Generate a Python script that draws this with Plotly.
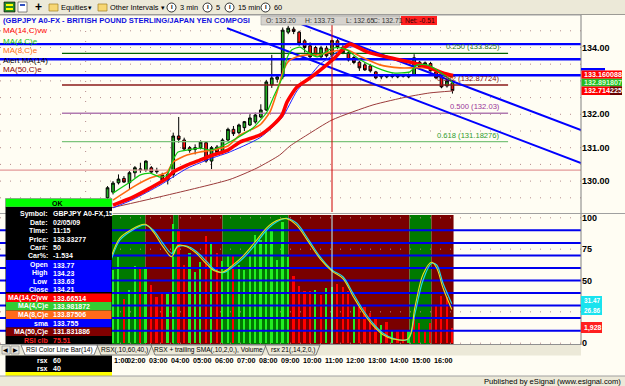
import plotly.graph_objects as go

W, H = 625, 386
FONT = "Liberation Sans, Arial, sans-serif"
CREAM = "#FFFDF3"
BARBG = "#ECE9D8"

# ---------------- DATA ----------------
# 15-minute GBPJPY candles, first bar 01:00
bar_start_hour = 1.0
bar_step_hours = 0.25
opens = [129.50,129.67,129.95,130.08,129.95,130.25,130.33,130.33,130.40,130.28,
         130.18,130.03,130.20,131.35,131.23,131.00,130.95,131.00,131.15,130.60,
         131.02,130.87,131.23,131.55,131.45,131.60,131.68,131.77,131.92,132.13,
         132.88,133.05,133.12,134.46,134.55,134.46,134.20,134.05,134.00,133.72,
         133.98,133.77,134.20,134.01,133.84,133.70,133.56,133.48,133.45,133.27,
         133.12,133.12,133.13,133.12,133.14,133.12,133.18,133.56,133.42,133.52,
         133.27,133.12,132.85,132.94]
highs = [129.85,130.00,130.20,130.15,130.30,130.45,130.55,130.62,130.45,130.40,
         130.25,130.30,131.45,131.92,131.30,131.05,131.10,131.22,131.20,131.05,
         131.08,131.28,131.60,131.65,131.72,131.80,132.00,132.05,132.30,133.03,
         133.78,133.20,134.60,134.65,134.62,134.50,134.25,134.15,134.05,134.05,
         134.05,134.23,134.25,134.10,133.90,133.75,133.60,133.55,133.50,133.30,
         133.20,133.20,133.22,133.20,133.20,133.22,133.80,133.60,133.58,133.57,
         133.30,133.15,133.05,132.98]
lows = [129.45,129.60,129.90,129.95,129.75,130.10,130.25,130.28,130.22,130.22,
        129.98,129.90,130.10,131.15,130.90,130.85,130.80,130.95,130.55,130.36,
        130.80,130.82,131.17,131.35,131.40,131.50,131.65,131.72,131.88,132.10,
        132.79,132.95,133.05,134.40,134.40,134.05,133.85,133.65,133.72,133.68,
        133.70,133.63,133.95,133.80,133.58,133.50,133.30,133.30,133.25,133.05,
        133.05,133.08,133.08,133.08,133.10,133.08,133.15,133.35,133.38,133.28,
        133.05,132.78,132.80,132.62]
closes = [129.80,129.94,130.06,129.97,130.25,130.40,130.36,130.60,130.27,130.31,
          130.03,130.20,131.35,131.25,130.96,130.92,131.00,131.17,130.60,131.00,
          130.85,131.23,131.55,131.42,131.68,131.78,131.89,131.98,132.13,132.97,
          133.09,133.12,134.52,134.58,134.48,134.13,134.00,133.72,133.78,133.99,
          133.75,134.21,134.00,133.84,133.63,133.55,133.39,133.33,133.30,133.09,
          133.15,133.17,133.18,133.16,133.17,133.18,133.69,133.42,133.54,133.30,
          133.09,132.82,133.00,132.71]
bar_hours = [bar_start_hour + i * bar_step_hours for i in range(len(closes))]

# moving averages (hour, price)
ma14_h = [1.25,2.16,2.94,3.72,3.99,4.63,5.22,5.82,6.50,7.05,7.96,8.56,8.97,9.20,9.65,10.25,11.02,11.39,11.75,12.07,12.85,13.90,14.95,15.72,16.32,16.78]
ma14_p = [129.28,129.52,129.79,130.09,130.27,130.48,130.63,130.78,130.93,131.17,131.38,131.68,131.98,132.37,132.82,133.09,133.49,133.70,133.95,134.10,133.87,133.69,133.54,133.39,133.24,133.16]
ma4_h = [1.25,2.03,2.48,2.94,3.40,3.72,3.99,4.22,4.63,5.22,5.68,6.13,6.50,6.91,7.64,8.28,8.56,8.97,9.20,9.42,9.79,10.11,10.57,11.25,11.62,11.93,12.53,13.30,14.04,14.81,15.13,15.59,16.18,16.64,16.78]
ma4_p = [129.64,129.97,130.18,130.24,130.12,130.18,130.63,130.87,130.93,130.99,130.93,131.02,131.14,131.29,131.59,132.07,132.49,133.09,133.69,133.93,134.01,133.87,133.72,133.98,133.99,133.93,133.63,133.39,133.24,133.27,133.48,133.48,133.27,133.03,132.90]
ma8_h = [1.25,2.16,2.94,3.72,3.99,4.63,5.22,5.82,6.50,7.05,7.96,8.42,8.74,9.01,9.24,9.65,10.11,10.70,11.25,11.93,12.67,13.44,14.36,14.95,15.59,16.18,16.78]
ma8_p = [129.43,129.82,130.09,130.27,130.57,130.78,130.87,130.93,131.05,131.38,131.68,132.07,132.67,133.27,133.57,133.72,133.78,133.78,133.88,133.93,133.69,133.48,133.39,133.39,133.39,133.24,133.09]
alert_h = [1.25,2.16,3.40,4.63,5.82,6.50,7.96,8.97,9.65,10.25,10.70,11.25,11.75,12.30,12.99,13.90,14.95,15.72,16.78]
alert_p = [129.20,129.45,129.88,130.38,130.70,130.85,131.30,131.90,132.70,133.15,133.50,133.75,133.98,134.02,133.85,133.66,133.52,133.38,133.15]
ma50_h = [1.11,3.72,6.59,7.82,8.86,9.33,10.11,11.25,13.12,14.67,15.72,16.78]
ma50_p = [129.19,129.58,130.05,130.39,130.78,131.05,131.38,131.83,132.28,132.52,132.64,132.70]

# horizontal levels
blue_levels = [134.10, 133.65, 133.17]
fib_ratios = ["0.250", "0.382", "0.500", "0.618"]
fib_prices = [133.825, 132.87724, 132.03, 131.18276]
fib_price_text = ["133.825", "132.87724", "132.03", "131.18276"]
fib_colors = ["#006400", "#8B1A1A", "#B07AB0", "#7CC47C"]
fib_text_colors = ["#1E7A1E", "#7A1010", "#993399", "#2E9A2E"]
fib_start_hour, fib_end_hour = -1.08, 19.29
support_level = 130.33
# trend channel (hour, price) end points
chan_upper_h, chan_upper_p = [8.88, 22.62], [134.94, 131.53]
chan_lower_h, chan_lower_p = [6.46, 22.62], [134.58, 130.54]
cursor_hour = 11.25

# lower panel: volume-style histogram bars (bars 2..64) and RSX lines
vol_vals = [58.4,68.5,35.2,42.4,61.6,59.7,59.7,46.4,37.1,39.0,
            40.6,95.0,91.0,62.4,72.2,57.0,65.0,85.7,79.7,72.2,
            65.5,70.3,70.3,62.4,58.4,70.3,86.3,82.3,90.3,90.3,
            66.3,96.9,68.5,53.6,45.6,41.9,41.9,42.4,38.4,43.8,
            45.0,47.2,44.6,41.9,29.9,29.1,29.1,23.8,19.9,14.5,
            17.2,9.7,10.5,10.5,9.7,21.1,15.9,10.5,16.3,29.7,
            37.6,36.8,12.4]
vol_dir = ["u","u","d","u","u","d","u","d","d","d",
           "u","u","d","d","u","u","u","d","u","d",
           "u","u","d","u","u","u","u","u","u","u",
           "u","u","u","d","d","d","d","u","d","u",
           "u","d","d","d","u","d","d","d","d","u",
           "d","u","d","d","u","d","d","d","d","d",
           "d","d","d"]
rsx_h = [1.19,1.57,2.03,2.71,3.08,3.53,3.93,4.22,4.62,5.07,5.53,5.91,6.27,6.73,7.19,7.73,8.27,8.73,9.18,9.64,10.09,10.70,11.25,11.75,12.21,12.67,13.12,13.58,14.04,14.72,15.04,15.41,15.80,16.03,16.32,16.72]
rsx_cyan = [67.7,82.3,88.9,94.3,90.3,79.7,71.7,77.0,77.5,73.0,65.0,58.4,56.2,61.0,67.7,78.3,90.3,96.9,99.6,95.6,84.9,69.0,58.4,53.0,39.8,26.5,15.9,7.9,3.9,3.1,23.8,50.4,63.7,62.4,47.8,31.5]
rsx_yellow = [70,84,90,94.8,89,77,69,78,77,71.5,63,57.5,56.8,62.5,69.5,80.5,92,97.8,99.3,94,83,67.5,57.5,51.5,37.5,24.5,14.2,6.8,3.4,3.4,29,55,64.5,60,44,26.9]
rsi_levels = [10, 20, 30, 40, 50, 60, 70, 80, 90]
zone_edges = [1.2, 2.73, 4.0, 4.24, 6.25, 9.26, 14.79, 15.79, 16.8]
zone_state = ["up", "dn", "up", "dn", "up", "dn", "up", "dn"]

time_labels = ["1:00","02:00","03:00","04:00","05:00","06:00","07:00","08:00",
               "09:00","10:00","11:00","12:00","13:00","14:00","15:00","16:00"]
time_label_hours = [1,2,3,4,5,6,7,8,9,10,11,12,13,14,15,16]
price_ticks = [130, 131, 132, 134]          # 133.00 is hidden behind the value labels
price_grid = [129.5,130.0,130.5,131.0,131.5,132.0,132.5,133.0,133.5,134.0,134.5]
rsi_ticks = [0, 50, 75, 100]                # 25 is hidden behind the RSX value box
rsi_grid = [0, 25, 50, 75, 100]

# ---------------- LAYOUT GEOMETRY (pixel mapping) ----------------
REF_PX, REF_HOUR, PX_PER_HOUR = 332.0, 11.25, 21.9
def hx(x):
    return REF_HOUR + (x - REF_PX) / PX_PER_HOUR
def pp(y):
    return 134.0 - (y - 47.5) / 33.4
def rv(y):
    return (343.2 - y) / 1.254
X_LO, X_HI = hx(0), hx(581)

def fx(x):
    return x / W
def fy(y):
    return 1 - y / H

fig = go.Figure()

# ---- price panel traces ----
def hline_trace(level, color, width, x0=X_LO, x1=X_HI, axis=("x", "y")):
    return go.Scatter(x=[x0, x1], y=[level, level], mode="lines",
                      line=dict(color=color, width=width),
                      xaxis=axis[0], yaxis=axis[1], hoverinfo="skip", showlegend=False)

fig.add_trace(hline_trace(support_level, "#E39A9A", 1.3))
for p, c in zip(fib_prices, fib_colors):
    fig.add_trace(hline_trace(p, c, 1.4, fib_start_hour, fib_end_hour))
for lvl in blue_levels:
    fig.add_trace(hline_trace(lvl, "#0000FF", 2.4))

fig.add_trace(go.Candlestick(
    x=bar_hours, open=opens, high=highs, low=lows, close=closes,
    increasing=dict(fillcolor="#22B022", line=dict(color="#000000", width=1)),
    decreasing=dict(fillcolor="#FF1010", line=dict(color="#000000", width=1)),
    whiskerwidth=0, xaxis="x", yaxis="y", hoverinfo="skip", showlegend=False))

for hh, pv in ((chan_upper_h, chan_upper_p), (chan_lower_h, chan_lower_p)):
    fig.add_trace(go.Scatter(x=hh, y=pv, mode="lines", line=dict(color="#0000FF", width=2),
                             xaxis="x", yaxis="y", hoverinfo="skip", showlegend=False))

def ma_trace(h, p, color, width):
    return go.Scatter(x=h, y=p, mode="lines", line=dict(color=color, width=width, shape="spline", smoothing=0.6),
                      xaxis="x", yaxis="y", hoverinfo="skip", showlegend=False)

fig.add_trace(ma_trace(ma50_h, ma50_p, "#9B3B3B", 1))
fig.add_trace(ma_trace(alert_h, alert_p, "#2020FF", 1))
fig.add_trace(ma_trace(ma8_h, ma8_p, "#FF6A10", 1.6))
fig.add_trace(ma_trace(ma14_h, ma14_p, "#FF0000", 3.6))
fig.add_trace(ma_trace(ma4_h, ma4_p, "#10C810", 1.2))

# ---- lower panel traces ----
fig.add_trace(go.Bar(x=bar_hours[1:], y=vol_vals,
                     marker=dict(color=["#22EE22" if d == "u" else "#FF0000" for d in vol_dir], line=dict(width=0)),
                     width=0.08, xaxis="x2", yaxis="y2", hoverinfo="skip", showlegend=False))
for lvl in rsi_levels:
    fig.add_trace(hline_trace(lvl, "#0000EE", 2, axis=("x2", "y2")))
fig.add_trace(go.Scatter(x=rsx_h, y=rsx_cyan, mode="lines", line=dict(color="#20D8E8", width=1.2, shape="spline"),
                         xaxis="x2", yaxis="y2", hoverinfo="skip", showlegend=False))
fig.add_trace(go.Scatter(x=rsx_h, y=rsx_yellow, mode="lines", line=dict(color="#E8E020", width=1.1, shape="spline"),
                         xaxis="x2", yaxis="y2", hoverinfo="skip", showlegend=False))

# ---------------- SHAPES ----------------
shapes = []
for k, st in enumerate(zone_state):
    shapes.append(dict(type="rect", xref="x2", yref="y2 domain", x0=zone_edges[k], x1=zone_edges[k + 1],
                       y0=0, y1=1, fillcolor="#007A00" if st == "up" else "#7A0000",
                       line=dict(width=0), layer="below"))
DOT = "1px,9px"
for g in price_grid:
    shapes.append(dict(type="line", xref="x domain", yref="y", x0=0, x1=1, y0=g, y1=g,
                       line=dict(color="#B88C8C", width=1, dash=DOT), layer="below"))
for g in rsi_grid:
    shapes.append(dict(type="line", xref="x2 domain", yref="y2", x0=0, x1=1, y0=g, y1=g,
                       line=dict(color="#B88C8C", width=1, dash=DOT), layer="below"))
shapes.append(dict(type="line", xref="x", yref="y domain", x0=0, x1=0, y0=0, y1=1,
                   line=dict(color="#B88C8C", width=1, dash=DOT), layer="below"))
shapes.append(dict(type="line", xref="x", yref="y domain", x0=cursor_hour, x1=cursor_hour, y0=0, y1=1,
                   line=dict(color="#CC0000", width=1), layer="above"))
shapes.append(dict(type="line", xref="x2", yref="y2 domain", x0=cursor_hour, x1=cursor_hour, y0=0, y1=1,
                   line=dict(color="#B8FFFF", width=1), layer="above"))

def prect(x0, y0, x1, y1, fill, lc=None, lw=0):
    shapes.append(dict(type="rect", xref="paper", yref="paper", x0=fx(x0), x1=fx(x1), y0=fy(y1), y1=fy(y0),
                       fillcolor=fill, line=dict(color=lc or fill, width=lw), layer="above"))
def pline(x0, y0, x1, y1, color, w=1):
    shapes.append(dict(type="line", xref="paper", yref="paper", x0=fx(x0), x1=fx(x1), y0=fy(y0), y1=fy(y1),
                       line=dict(color=color, width=w), layer="above"))
def pcircle(x0, y0, x1, y1, fill, lc):
    shapes.append(dict(type="circle", xref="paper", yref="paper", x0=fx(x0), x1=fx(x1), y0=fy(y1), y1=fy(y0),
                       fillcolor=fill, line=dict(color=lc, width=0.8), layer="above"))

ann = []
def txt(x, y, s, size=8, color="#000000", anchor="left", bold=False, bg=None, family=FONT):
    d = dict(x=fx(x), y=fy(y), xref="paper", yref="paper", text=s, showarrow=False,
             xanchor=anchor, yanchor="middle", borderpad=0,
             font=dict(size=size, color=color, family=family, weight="bold" if bold else "normal"))
    if bg:
        d["bgcolor"] = bg
    ann.append(d)

# toolbar
prect(0, 0, 625, 14.5, BARBG)
pline(0, 14.5, 625, 14.5, "#9C9A94")
prect(4, 2, 15, 12, "#2A8A2A", "#000000", 0.6)
prect(6, 4, 13, 6, "#FFFF00")
prect(6, 8, 13, 10, "#FFFF00")
prect(18, 2, 27, 12, "#FFFFFF", "#555555", 0.7)
prect(20, 4, 25, 6, "#3050C0")
txt(38, 7.5, "+", 12, bold=True, anchor="center")
prect(49, 4, 58, 11, "#F7D774", "#A08020", 0.7)
txt(60, 7.5, "Equities", 7.4)
txt(90, 7.5, "▾", 7, anchor="center")
prect(98, 4, 107, 11, "#F7D774", "#A08020", 0.7)
txt(109, 7.5, "Other Intervals", 7.4)
txt(163, 7.5, "▾", 7, anchor="center")
for cx, lab in ((171.5, "3 min"), (207.5, "5"), (229.5, "15 min"), (265.5, "60")):
    pcircle(cx - 4.5, 3, cx + 4.5, 12, "#FFFFFF", "#000000")
    txt(cx, 7.5, "I", 6, bold=True, anchor="center")
    txt(cx + 7, 7.5, lab, 7.4)

# frame lines
pline(0, 15, 581, 15, "#A0A0A0")
pline(581, 15, 581, 345, "#808080")
pline(0, 213.5, 625, 213.5, "#A0A0A0")

# title / OHLC header
txt(2, 20.5, "(GBPJPY A0-FX - BRITISH POUND STERLING/JAPAN YEN COMPOSI", 7.6, "#1010E0", bold=True)
prect(261, 16, 400, 25, "#D6D3CE", "#A0A0A0", 0.6)
for xx, s in ((265, "O: 133.20"), (304, "H: 133.73"), (345, "L: 132.65"), (372, "C: 132.71")):
    txt(xx, 20.5, s, 6.8, "#333333")
prect(401, 16, 437, 25, "#FF2020")
txt(404, 20.5, "Net: -0.51", 6.8, "#300000")

# legend labels
for yy, s, c in ((31, "MA(14,C)vw", "#FF0000"), (41, "MA(4,C)e", "#10C010"), (50.7, "MA(8,C)e", "#FF6A10"),
                 (60, "Alert MA(14)", "#000000"), (70, "MA(50,C)e", "#8B0000")):
    txt(2, yy, s, 8, c)

# fib labels
for r, ptxt, p, c in zip(fib_ratios, fib_price_text, fib_prices, fib_text_colors):
    ann.append(dict(x=hx(502), y=p, xref="x", yref="y", text=f"{r} ({ptxt})", showarrow=False,
                    xanchor="right", yanchor="bottom", yshift=0,
                    font=dict(size=7.6, color=c, family=FONT)))

# right price labels
prect(581, 68, 605, 70.5, "#0000FF")
prect(581.5, 70.5, 622, 78.7, "#FF0000")
txt(583, 74.6, "133.160088", 7.2, "#FFFFFF", bold=True)
prect(581.5, 78.7, 622, 86.5, "#22BB22")
txt(583, 82.6, "132.891807", 7.2, "#D8FFD8", bold=True)
prect(581.5, 86.5, 622, 95, "#FF0000")
prect(610, 86.5, 622, 95, "#6A0000")
txt(583, 90.8, "132.714225", 7.2, "#FFFFFF", bold=True)

# right RSI labels
prect(581, 296, 602, 315, "#19E3EE")
txt(583, 300.8, "31.47", 6.4, "#FFFFFF", bold=True)
txt(583, 310.2, "26.86", 6.4, "#FFFFFF", bold=True)
prect(581, 322, 602, 333, "#FF2020")
txt(583, 327.5, "1,928", 7, "#FFFFFF", bold=True)

# info box
prect(5.5, 198.5, 112, 207, "#00FF00", "#808080", 0.6)
txt(58, 203, "OK", 7, "#000000", anchor="center", bold=True)
prect(5.5, 207, 112, 372, "#000000")
prect(6, 260, 111.5, 292, "#0000FF")
for y0, y1, c in ((293.5, 302, "#FF0000"), (302, 310.5, "#33CC33"), (310.5, 319, "#FF6A1A"),
                  (319, 327.5, "#0000FF"), (327.5, 336, "#800000")):
    prect(6, y0, 111.5, y1, c)
prect(5.5, 372, 112, 376, "#FFFF00")
rows = [("Symbol:", "GBPJPY A0-FX,15", 214), ("Date:", "02/05/09", 222.2), ("Time:", "11:15", 230.6),
        ("Price:", "133.33277", 239), ("Car#:", "50", 247.3), ("Car%:", "-1.534", 255.6),
        ("Open", "133.77", 265), ("High", "134.23", 273.3), ("Low", "133.63", 281.7), ("Close", "134.21", 289.6),
        ("MA(14,C)vw", "133.66514", 298), ("MA(4,C)e", "133.981872", 306.3), ("MA(8,C)e", "133.87506", 314.8),
        ("sma", "133.755", 323.2), ("MA(50,C)e", "131.831886", 331.7)]
for lab, val, yy in rows:
    txt(49, yy, lab, 7, "#FFFFFF", anchor="right", bold=True)
    txt(51.5, yy, val, 7, "#FFFFFF", bold=True)
txt(49, 340, "RSI clb", 7, "#FF2020", anchor="right", bold=True)
txt(51.5, 340, "75.51", 7, "#FF2020", bold=True)
txt(49, 360, "rsx", 7, "#FFFFFF", anchor="right", bold=True)
txt(51.5, 360, "60", 7, "#FFFFFF", bold=True)
txt(49, 368, "rsx", 7, "#FFFFFF", anchor="right", bold=True)
txt(51.5, 368, "40", 7, "#FFFFFF", bold=True)

# tab row
prect(0, 344.5, 581, 355.5, BARBG)
pline(0, 344.5, 581, 344.5, "#909090")
prect(2, 346, 10, 354, "#E4E2DA", "#808080", 0.6)
prect(11, 346, 19, 354, "#E4E2DA", "#808080", 0.6)
txt(6, 350, "◀", 5.5, anchor="center")
txt(15, 350, "▶", 5.5, anchor="center")
tabs = [("RSI Color Line Bar(14)", 21, 98, "#FFFFFF"), ("RSX(,10,60,40,)", 97, 152, BARBG),
        ("RSX + trailing SMA(,10,2,0,), Volume", 151, 266, BARBG), ("rsx 21(,14,2,0,)", 265, 320, BARBG)]
for s, x0, x1, bg in tabs:
    shapes.append(dict(type="path", xref="paper", yref="paper",
                       path=f"M {fx(x0)} {fy(345)} L {fx(x0 + 4)} {fy(355)} L {fx(x1 - 4)} {fy(355)} L {fx(x1)} {fy(345)} Z",
                       fillcolor=bg, line=dict(color="#606060", width=0.8), layer="above"))
    txt((x0 + x1) / 2, 350, s, 6.6, anchor="center")

# time labels
for hh, s in zip(time_label_hours, time_labels):
    if hh == time_label_hours[0]:
        txt(112.5, 360.5, s, 7.2, bold=True)
    else:
        ann.append(dict(x=hh + 7.0 / PX_PER_HOUR, y=fy(360.5), xref="x", yref="paper", text=s, showarrow=False,
                        xanchor="center", yanchor="middle",
                        font=dict(size=7.2, color="#000000", family=FONT, weight="bold")))

# status bar
prect(0, 376, 625, 386, BARBG)
pline(0, 376, 625, 376, "#A0A0A0")
txt(622, 381, "Published by eSignal (www.esignal.com)", 7.6, "#000000", anchor="right")

fig.update_layout(
    width=W, height=H, margin=dict(l=0, r=0, t=0, b=0, pad=0),
    paper_bgcolor=CREAM, plot_bgcolor=CREAM, showlegend=False, hovermode=False,
    bargap=0,
    xaxis=dict(domain=[0, 581 / W], range=[X_LO, X_HI], visible=False, anchor="y",
               rangeslider=dict(visible=False), fixedrange=True),
    xaxis2=dict(domain=[0, 581 / W], range=[X_LO, X_HI], visible=False, anchor="y2",
                matches="x", fixedrange=True),
    yaxis=dict(domain=[fy(212), fy(16)], range=[pp(212), pp(16)], side="right", anchor="x",
               tickmode="array", tickvals=price_ticks, ticktext=[f"{v:.2f}" for v in price_ticks],
               ticks="", showgrid=False, zeroline=False, showline=False, automargin=False,
               tickfont=dict(size=9, color="#000000", family=FONT, weight="bold"), fixedrange=True),
    yaxis2=dict(domain=[fy(345), fy(215)], range=[rv(345), rv(215)], side="right", anchor="x2",
                tickmode="array", tickvals=rsi_ticks, ticktext=[str(v) for v in rsi_ticks],
                ticks="", showgrid=False, zeroline=False, showline=False, automargin=False,
                tickfont=dict(size=9, color="#000000", family=FONT, weight="bold"), fixedrange=True),
    shapes=shapes, annotations=ann,
)

fig.write_html("out.html")
